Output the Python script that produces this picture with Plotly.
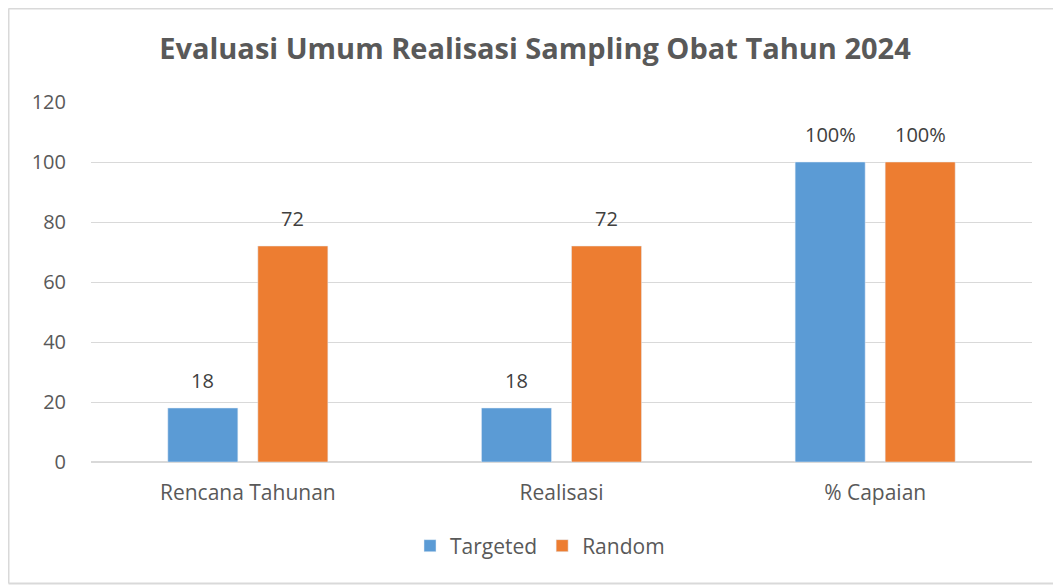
import plotly.graph_objects as go

categories = ["Rencana Tahunan", "Realisasi", "% Capaian"]
targeted = [18, 18, 100]
random_vals = [72, 72, 100]
targeted_labels = ["18", "18", "100%"]
random_labels = ["72", "72", "100%"]
y_ticks = [0, 20, 40, 60, 80, 100, 120]

OFF = 8  # browser body margin
W, H = 1061 - OFF, 588 - OFF
# plot area in window pixels: x 91..1032, y 102..462
ml = 91 - OFF
mr = W - (1032 - OFF)
mt = 102 - OFF
mb = H - (462 - OFF)
pw, ph = W - ml - mr, H - mt - mb

def px_x(p):
    return (p - OFF - ml) / pw

def px_y(p):
    return (H - mb - (p - OFF)) / ph

BLUE, ORANGE = "#5B9BD5", "#ED7D31"
FONT = "Open Sans, sans-serif"

fig = go.Figure()
fig.add_trace(go.Bar(name="Targeted", x=categories, y=targeted, marker_color=BLUE))
fig.add_trace(go.Bar(name="Random", x=categories, y=random_vals, marker_color=ORANGE))

annotations = []
for cat, v, t in zip(categories, targeted, targeted_labels):
    annotations.append(dict(x=cat, y=v, text=t, xref="x", yref="y", showarrow=False,
                            xshift=-45, yshift=12, yanchor="bottom",
                            font=dict(size=20, color="#404040", family=FONT)))
for cat, v, t in zip(categories, random_vals, random_labels):
    annotations.append(dict(x=cat, y=v, text=t, xref="x", yref="y", showarrow=False,
                            xshift=45, yshift=12, yanchor="bottom",
                            font=dict(size=20, color="#404040", family=FONT)))

border = dict(color="#D9D9D9", width=2)
xl, xr = px_x(8.5), px_x(1061)
yt, yb = px_y(8.5), px_y(583.5)
shapes = [
    dict(type="line", xref="paper", yref="paper", x0=xl, x1=xr, y0=yt, y1=yt, line=border, layer="below"),
    dict(type="line", xref="paper", yref="paper", x0=xl, x1=xr, y0=yb, y1=yb, line=border, layer="below"),
    dict(type="line", xref="paper", yref="paper", x0=xl, x1=xl, y0=yb, y1=yt, line=border, layer="below"),
]

fig.update_layout(
    width=W, height=H,
    margin=dict(l=ml, r=mr, t=mt, b=mb),
    paper_bgcolor="white", plot_bgcolor="white",
    barmode="group", bargap=0.426, bargroupgap=0.222,
    font=dict(family=FONT, color="#595959", size=20),
    title=dict(text="<b>Evaluasi Umum Realisasi Sampling Obat Tahun 2024</b>",
               x=(535 - OFF) / W, xanchor="center", y=1 - (49 - OFF) / H, yanchor="middle",
               font=dict(size=29, color="#595959", family=FONT)),
    showlegend=True,
    legend=dict(orientation="h", x=px_x(540), xanchor="center", y=px_y(546), yanchor="middle",
                font=dict(size=21, color="#595959"), traceorder="normal"),
    annotations=annotations,
    shapes=shapes,
)
fig.update_yaxes(range=[0, 120], tickvals=y_ticks, showgrid=True, gridcolor="#D9D9D9",
                 zeroline=True, zerolinecolor="#D9D9D9", showline=False,
                 tickfont=dict(size=20, color="#595959"), ticks="", ticklabelstandoff=24)
fig.update_xaxes(showgrid=False, showline=False, ticks="",
                 tickfont=dict(size=21, color="#595959"), ticklabelstandoff=16)

fig.write_html("out.html")
